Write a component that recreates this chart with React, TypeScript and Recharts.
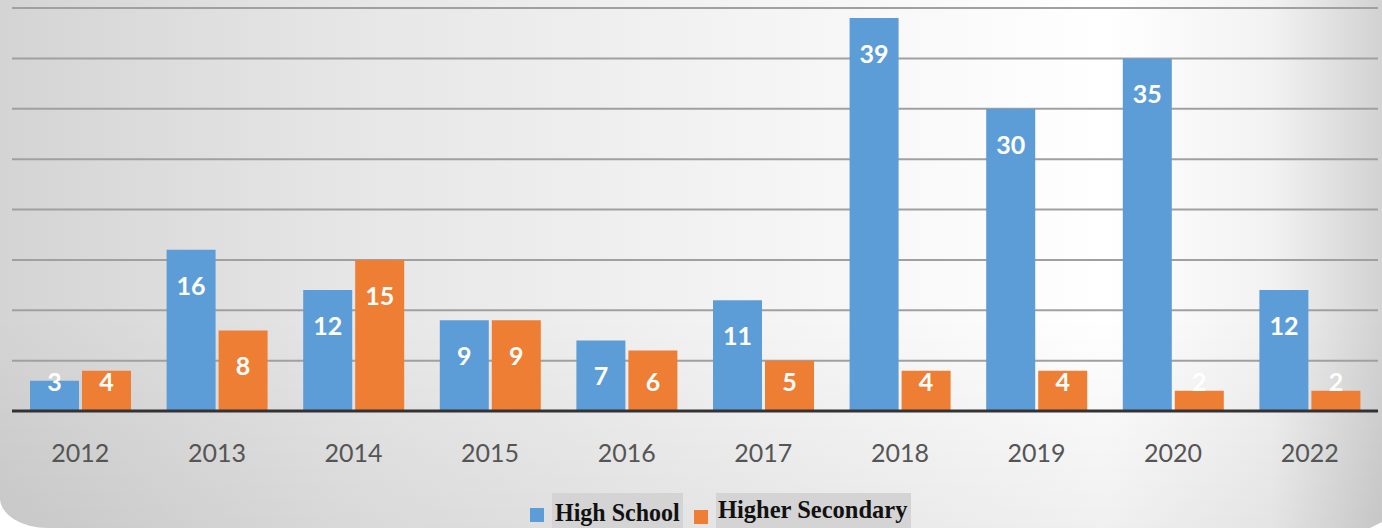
import { BarChart, Bar, XAxis, YAxis, CartesianGrid, Legend, LabelList } from 'recharts';

const years = ['2012', '2013', '2014', '2015', '2016', '2017', '2018', '2019', '2020', '2022'];
const highSchool = [3, 16, 12, 9, 7, 11, 39, 30, 35, 12];
const higherSecondary = [4, 8, 15, 9, 6, 5, 4, 4, 2, 2];
const yTicks = [0, 5, 10, 15, 20, 25, 30, 35, 40];

const BLUE = '#5d9dd7';
const ORANGE = '#ee7e33';
const AXIS_Y = 411;

const data = years.map((year, i) => ({
  year,
  high: highSchool[i],
  higher: higherSecondary[i],
}));

const YearTick = ({ x, y, payload }: any) => (
  <text x={x} y={y + 49} textAnchor="middle" fill="#555555" fontSize={25} fontFamily="Lato, sans-serif">
    {payload.value}
  </text>
);

const BarValue = ({ x, y, width, value }: any) => {
  const cy = Math.min(y + 35, AXIS_Y - 30);
  return (
    <text
      x={x + width / 2}
      y={cy}
      textAnchor="middle"
      dominantBaseline="central"
      fill="#ffffff"
      fontSize={25}
      fontWeight={700}
      fontFamily="Lato, sans-serif"
    >
      {value}
    </text>
  );
};

const legendText = {
  position: 'absolute' as const,
  whiteSpace: 'nowrap' as const,
  fontFamily: "'Liberation Serif', serif",
  fontWeight: 700,
  fontSize: 25,
  lineHeight: '28px',
  color: '#111',
  transformOrigin: 'left top',
};

const LegendBox = () => (
  <div style={{ position: 'relative', width: 1382, height: 35 }}>
    <div style={{ position: 'absolute', left: 530, top: 15, width: 14, height: 14, background: BLUE }} />
    <div style={{ position: 'absolute', left: 552, top: 0, width: 131, height: 35, background: '#d4d4d4' }}>
      <span style={{ ...legendText, left: 3, top: 6, transform: 'scaleX(0.96)' }}>High School</span>
    </div>
    <div style={{ position: 'absolute', left: 694, top: 17, width: 14, height: 14, background: ORANGE }} />
    <div style={{ position: 'absolute', left: 716, top: 0, width: 195, height: 35, background: '#d4d4d4' }}>
      <span style={{ ...legendText, left: 2, top: 3, transform: 'scaleX(0.98)' }}>Higher Secondary</span>
    </div>
  </div>
);

export default function App() {
  return (
    <div
      style={{
        position: 'absolute',
        left: 0,
        top: 0,
        width: 1382,
        height: 528,
        overflow: 'hidden',
        borderBottomLeftRadius: '48px 30px',
        clipPath: 'polygon(0 0, 100% 0, 100% 522px, 1370px 100%, 0 100%)',
        background:
          'linear-gradient(to bottom, rgba(0,0,0,0) 0%, rgba(0,0,0,0) 60%, rgba(0,0,0,0.06) 100%), linear-gradient(to right, #d4d4d4 0%, #e6e6e6 25%, #f4f4f4 55%, #ffffff 80%, #f2f2f2 92%, #d2d2d2 100%)',
      }}
    >
      <BarChart
        width={1382}
        height={528}
        data={data}
        margin={{ top: 8, right: 4, left: 12, bottom: 0 }}
        barSize={49}
        barGap={3}
      >
        <CartesianGrid horizontal vertical={false} stroke="#a0a0a0" strokeWidth={2} />
        <YAxis hide domain={[0, 40]} ticks={yTicks} />
        <XAxis
          dataKey="year"
          height={82}
          tickLine={false}
          tickSize={0}
          tick={<YearTick />}
          axisLine={{ stroke: '#333333', strokeWidth: 3 }}
          interval={0}
        />
        <Legend verticalAlign="bottom" content={<LegendBox />} wrapperStyle={{ left: 0, bottom: 0, width: 1382, height: 35 }} />
        <Bar dataKey="high" name="High School" fill={BLUE} isAnimationActive={false}>
          <LabelList dataKey="high" content={<BarValue />} />
        </Bar>
        <Bar dataKey="higher" name="Higher Secondary" fill={ORANGE} isAnimationActive={false}>
          <LabelList dataKey="higher" content={<BarValue />} />
        </Bar>
      </BarChart>
    </div>
  );
}
